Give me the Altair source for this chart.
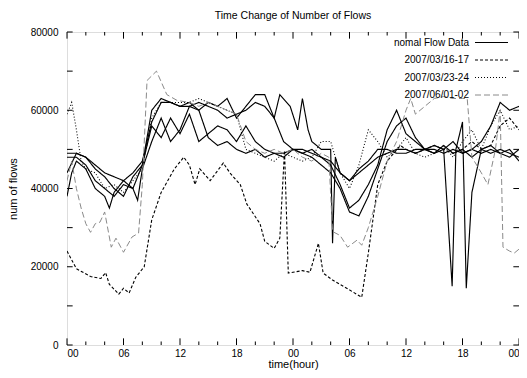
import altair as alt
import pandas as pd

# ---- data (hours since 00:00 of day 1, number of flows) ----
n1_h = list(range(49))
n1_v = [49000, 49000, 48000, 46000, 44000, 43000, 42000, 44000, 47000, 57000,
        62000, 62000, 61000, 61000, 62000, 61000, 60000, 58000, 59000, 60000,
        62000, 61000, 58000, 52000, 50000, 50000, 49000, 48000, 47000, 44000,
        42000, 44000, 46000, 48000, 49000, 50000, 50000, 49000, 50000, 50000,
        49000, 50000, 49000, 50000, 49000, 50000, 49000, 48000, 50000]

n2_h = [0, 1, 2, 3, 4, 5, 6, 7, 8, 9, 10, 11, 12, 13, 14, 15, 16, 17, 18, 19,
        20, 21, 22, 22.6, 23.7, 24.5, 25, 25.6, 26, 27, 28, 28.2, 28.5, 29, 30,
        31, 32, 33, 34, 35, 36, 37, 38, 39, 40, 40.9, 41.3, 42, 42.4, 43, 44,
        45, 46, 47, 48]
n2_v = [44000, 49000, 48000, 45000, 43000, 40000, 38000, 43000, 46000, 60000,
        63000, 62000, 61000, 62000, 60000, 62000, 61000, 63000, 58000, 61000,
        64000, 64000, 58000, 64000, 61000, 55000, 63000, 55000, 52000, 50000,
        50000, 26000, 48000, 44000, 42000, 45000, 47000, 50000, 50000, 49000,
        49000, 50000, 50000, 51000, 50000, 15000, 50000, 57000, 14500, 39000,
        50000, 49000, 50000, 49000, 48000]

n3_h = list(range(49))
n3_v = [48000, 48000, 46000, 42000, 40000, 38000, 41000, 40000, 46000, 56000,
        53000, 58000, 54000, 59000, 52000, 54000, 56000, 55000, 52000, 56000,
        52000, 50000, 49000, 49000, 50000, 49000, 48000, 46000, 44000, 40000,
        34000, 33000, 38000, 45000, 52000, 56000, 58000, 53000, 50000, 49000,
        50000, 52000, 49000, 50000, 52000, 56000, 62000, 60000, 61000]

n4_h = [0, 0.5, 1, 2, 3, 4, 4.5, 5, 6, 7, 7.5, 8, 9, 10, 11, 12, 13, 14, 15, 16,
        17, 18, 19, 20, 21, 22, 23, 24, 25, 26, 27, 28, 29, 30, 31, 32, 33, 34,
        35, 36, 37, 38, 39, 40, 41, 42, 43, 44, 45, 46, 47, 48]
n4_v = [38000, 44000, 47000, 45000, 40000, 38000, 35000, 39000, 42000, 40000,
        37000, 45000, 52000, 58000, 52000, 55000, 61000, 60000, 53000, 51000,
        52000, 50000, 49000, 50000, 48000, 49000, 48000, 50000, 49000, 50000,
        48000, 46000, 41000, 35000, 37000, 41000, 46000, 55000, 60000, 54000,
        52000, 50000, 49000, 51000, 49000, 50000, 48000, 50000, 51000, 49000,
        50000, 47000]

mar16_h = [0, 1, 2.5, 3.6, 4.1, 4.5, 5.5, 6, 6.6, 7.3, 8.2, 9, 10, 11.4, 12.4, 13,
           13.6, 14.1, 15.2, 16.6, 17.3, 18.4, 19.1, 20.5, 21, 22, 22.6, 23.1,
           23.5, 24, 25, 25.8, 26.7, 27.2, 28.2, 29.7, 31.3, 32, 33, 34, 35.4,
           36, 37, 38, 39, 40, 41, 42, 43, 44, 45, 46, 47, 48]
mar16_v = [24000, 19500, 17500, 17000, 18500, 15500, 13000, 14500, 13300, 17300,
           20000, 32000, 39000, 45000, 48000, 46000, 41000, 45000, 42000, 46500,
           44000, 41000, 36000, 31000, 26500, 24700, 27300, 49700, 18400, 18600,
           19000, 18600, 26000, 18400, 16600, 14500, 12200, 23500, 41000, 47000,
           51000, 50000, 49000, 50000, 51000, 50000, 49000, 50000, 52000, 50000,
           51000, 56000, 58000, 55000]

mar23_h = [0, 0.5, 1, 1.5, 2, 3, 4, 5, 6, 7, 8, 9, 10, 11, 12, 13, 14, 15, 16,
           17, 18, 19, 20, 21, 22, 23, 24, 25, 26, 27, 28, 29, 30, 31, 32, 33,
           34, 35, 36, 37, 38, 39, 40, 41, 42, 43, 44, 45, 46, 47, 48]
mar23_v = [59000, 62000, 55000, 47000, 45000, 44000, 40000, 41000, 39000, 42000,
           45000, 58000, 62000, 62000, 62000, 62000, 63000, 62000, 61000, 60000,
           59000, 50000, 49000, 48000, 47000, 49000, 48000, 47000, 48000, 52000,
           52000, 44000, 40000, 46000, 55000, 52000, 48000, 50000, 53000, 49000,
           48000, 49000, 51000, 48000, 52000, 55000, 50000, 56000, 60000, 55000,
           56000]

jun01_h = [0, 0.5, 1, 1.5, 2, 2.5, 3, 3.5, 4, 4.7, 5.2, 6, 6.9, 7.6, 8, 8.5, 9.5,
           10.6, 11.7, 13, 14, 15, 16, 17, 18, 19, 20, 21, 22, 23, 24, 25, 26,
           27, 27.8, 28.2, 29, 29.8, 30.8, 31.3, 32, 33, 34, 35, 36, 36.5, 37,
           38, 39, 40, 41, 42, 42.5, 43, 44, 44.7, 45.5, 46, 46.3, 47, 47.5, 48]
jun01_v = [42000, 47000, 40000, 35000, 31000, 28800, 31000, 31400, 34000, 25000,
           27300, 23700, 27600, 28600, 41000, 67600, 70000, 64000, 62500, 62000,
           61000, 62000, 61000, 60000, 59000, 52000, 50000, 49000, 50000, 49000,
           50000, 48000, 47000, 49000, 48000, 29000, 28000, 25000, 26800, 25500,
           30000, 38000, 47000, 52000, 60000, 63000, 59000, 61000, 63000, 63500,
           63000, 63000, 63000, 48000, 44000, 41000, 50000, 60000, 25000, 24000,
           23500, 24500]

legend_names = ["nomal Flow Data", "2007/03/16-17", "2007/03/23-24", "2007/06/01-02"]
series = [
    ("n1", legend_names[0], n1_h, n1_v),
    ("n2", legend_names[0], n2_h, n2_v),
    ("n3", legend_names[0], n3_h, n3_v),
    ("n4", legend_names[0], n4_h, n4_v),
    ("mar16", legend_names[1], mar16_h, mar16_v),
    ("mar23", legend_names[2], mar23_h, mar23_v),
    ("jun01", legend_names[3], jun01_h, jun01_v),
]

x_major = [0, 6, 12, 18, 24, 30, 36, 42, 48]
x_minor = [2, 4, 8, 10, 14, 16, 20, 22, 26, 28, 32, 34, 38, 40, 44, 46]
y_ticks = [0, 10000, 20000, 30000, 40000, 50000, 60000, 70000, 80000]

rows = []
for sid, key, hs, vs in series:
    for i, (h, v) in enumerate(zip(hs, vs)):
        rows.append({"sid": sid, "key": key, "hour": h, "flows": v, "order": i})
df = pd.DataFrame(rows)
legend_df = pd.DataFrame({"key": legend_names})

FONT = "Liberation Sans"
xscale = alt.Scale(domain=[0, 48], nice=False, zero=False)
yscale = alt.Scale(domain=[0, 80000], nice=False)
color_scale = alt.Scale(domain=legend_names, range=["#000000", "#000000", "#000000", "#8a8a8a"])
dash_scale = alt.Scale(domain=legend_names, range=[[1, 0], [3, 2], [1, 2], [6, 3]])
width_scale = alt.Scale(domain=legend_names, range=[1.15, 1.0, 1.0, 0.8])

lines = alt.Chart(df).mark_line(clip=True).encode(
    x=alt.X("hour:Q", scale=xscale,
            axis=alt.Axis(values=x_major, title="time(hour)", ticks=False,
                          labelExpr="(datum.value % 24 < 10 ? '0' : '') + (datum.value % 24)",
                          labelPadding=3, titlePadding=0, domain=False, grid=False,
                          titleFontWeight="normal")),
    y=alt.Y("flows:Q", scale=yscale,
            axis=alt.Axis(values=y_ticks, title="num of flows", ticks=False, format="d",
                          labelPadding=9, titlePadding=12, domain=False, grid=False,
                          titleFontWeight="normal")),
    detail="sid:N",
    order="order:Q",
    color=alt.Color("key:N", scale=color_scale, legend=None),
    strokeDash=alt.StrokeDash("key:N", scale=dash_scale, legend=None),
    strokeWidth=alt.StrokeWidth("key:N", scale=width_scale, legend=None),
)

tick_df_major = pd.DataFrame({"hour": x_major})
tick_df_minor = pd.DataFrame({"hour": x_minor})
tick_df_y = pd.DataFrame({"flows": y_ticks})

def xticks(d, y0, y1):
    return alt.Chart(d).mark_rule(color="black", strokeWidth=1).encode(
        x=alt.X("hour:Q", scale=xscale), y=alt.datum(y0), y2=alt.datum(y1))

def yticks(x0, x1):
    return alt.Chart(tick_df_y).mark_rule(color="black", strokeWidth=1).encode(
        y=alt.Y("flows:Q", scale=yscale), x=alt.datum(x0), x2=alt.datum(x1))

# legend (gnuplot style: label on the left, line sample on the right)
leg_y = alt.Y("key:N", scale=alt.Scale(type="point", domain=legend_names, range=[10.5, 63], padding=0),
              axis=None)
leg_text = alt.Chart(legend_df).mark_text(align="right", baseline="middle", font=FONT,
                                          fontSize=10, color="black").encode(
    y=leg_y, x=alt.value(402), text="key:N")
leg_line = alt.Chart(legend_df).mark_rule().encode(
    y=leg_y, x=alt.value(408), x2=alt.value(441),
    color=alt.Color("key:N", scale=color_scale, legend=None),
    strokeDash=alt.StrokeDash("key:N", scale=dash_scale, legend=None),
    strokeWidth=alt.StrokeWidth("key:N", scale=width_scale, legend=None),
)

main = alt.layer(
    lines,
    xticks(tick_df_major, 0, 1700), xticks(tick_df_minor, 0, 900),
    xticks(tick_df_major, 80000, 78300), xticks(tick_df_minor, 80000, 79100),
    yticks(0, 0.6), yticks(48, 47.4),
)
legend_layer = alt.layer(leg_text, leg_line)

chart = alt.layer(main, legend_layer).resolve_scale(y="independent").properties(
    width=452, height=313,
    title=alt.Title("Time Change of Number of Flows", fontSize=10.5, font=FONT,
                    fontWeight="normal", offset=6, anchor="middle"),
    autosize=alt.AutoSizeParams(type="none"),
    padding={"left": 59, "top": 24, "right": 0, "bottom": 25},
).configure_view(stroke="black", strokeWidth=1).configure_axis(
    labelFont=FONT, titleFont=FONT, labelFontSize=9, titleFontSize=10,
    labelColor="#000", titleColor="#000", titleFontWeight="normal",
).configure(background="white")

chart.save("out.html", embed_options={"renderer": "svg", "actions": False})
